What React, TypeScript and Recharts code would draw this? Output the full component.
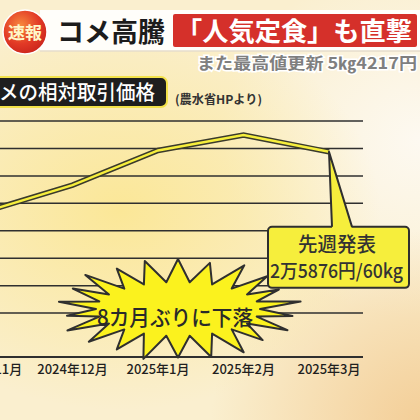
import { CartesianGrid, Line, LineChart, XAxis, YAxis } from "recharts";

// 農水省 相対取引価格（全銘柄平均, 円/60kg）
const months = ["2024年11月", "2024年12月", "2025年1月", "2025年2月", "2025年3月"];
const prices = [23715, 24665, 25927, 26485, 25876];
const gridTicks = [20000, 21000, 22000, 23000, 24000, 25000, 26000, 27000];
const yDomain = [18400, 27000];

const calloutTitle = "先週発表";
const calloutValue = "2万5876円/60kg";

const FONT = '"Noto Sans CJK JP", "Noto Sans", sans-serif';
const INK = "#2f2f2f";
const YELLOW = "#f6ee3c";

const data = months.map((month, i) => ({ month, price: prices[i] }));

// 吹き出し：最新の点から下の箱へ
const renderCallout = (props: any) => {
  const { cx, cy, index } = props;
  if (index !== data.length - 1) return <g key={`d-${index}`} />;
  const bx = cx - 61;
  const by = cy + 75;
  return (
    <g key={`d-${index}`}>
      <rect x={bx} y={by} width={141} height={61} rx={4} fill={YELLOW} stroke={INK} strokeWidth={2} />
      <polygon points={`${cx},${cy} ${cx + 3},${by + 2} ${cx + 23},${by + 2}`} fill={YELLOW} />
      <polyline points={`${cx + 3},${by} ${cx},${cy} ${cx + 23},${by}`} fill="none" stroke={INK} strokeWidth={2} strokeLinejoin="round" />
      <text x={bx + 30} y={by + 25} fontSize={20} fontWeight={500} fill="#333" fontFamily={FONT} textLength={78} lengthAdjust="spacingAndGlyphs">
        {calloutTitle}
      </text>
      <text x={bx + 2} y={by + 51} fontSize={19} fontWeight={500} fill="#333" fontFamily={FONT} textLength={133} lengthAdjust="spacingAndGlyphs">
        {calloutValue}
      </text>
    </g>
  );
};

// ギザギザの星形
const starPoints = () => {
  const cx = 178;
  const cy = 309;
  const n = 22;
  const tweak = [1, 0.96, 1.04, 1, 0.94, 1.05, 0.98, 1.02, 0.95, 1.03, 1, 0.97, 1.04, 0.96, 1, 1.03, 0.95, 1.02, 0.98, 1.04, 0.96, 1];
  const pts: string[] = [];
  for (let i = 0; i < n * 2; i++) {
    const a = (Math.PI * i) / n - Math.PI / 2;
    const outer = i % 2 === 0;
    const k = outer ? tweak[i / 2] : 1;
    const rx = outer ? 118 * k : 82;
    const ry = outer ? 50 * k : 27;
    pts.push(`${(cx + rx * Math.cos(a)).toFixed(1)},${(cy + ry * Math.sin(a)).toFixed(1)}`);
  }
  return pts.join(" ");
};

export default function App() {
  return (
    <div
      style={{
        position: "relative",
        width: 420,
        height: 420,
        overflow: "hidden",
        fontFamily: FONT,
        background:
          "radial-gradient(ellipse 260px 200px at 120px 210px, #fbe797 0%, rgba(251,231,151,0) 100%), radial-gradient(ellipse 220px 200px at 430px 430px, #f3cc94 0%, rgba(243,204,148,0) 100%), radial-gradient(ellipse 200px 180px at 420px 140px, #fdf9f1 0%, rgba(253,249,241,0) 100%), #faefcf",
      }}
    >
      <style>{`body{margin:0}`}</style>

      <div style={{ position: "absolute", left: -47, top: 111 }}>
        <LineChart width={470} height={276} data={data} margin={{ top: 10, right: 60, bottom: 0, left: 0 }}>
          <CartesianGrid vertical={false} stroke={INK} strokeWidth={1.5} />
          <XAxis
            dataKey="month"
            height={30}
            interval={0}
            padding={{ left: 34, right: 34 }}
            axisLine={{ stroke: INK, strokeWidth: 2 }}
            tickLine={false}
            tick={{ fill: "#1f1f1f", fontSize: 13, fontWeight: 500, fontFamily: FONT }}
          />
          <YAxis hide width={0} domain={yDomain} ticks={gridTicks} />
          <Line type="linear" dataKey="price" stroke="#3a3a2c" strokeWidth={5.5} dot={false} isAnimationActive={false} />
          <Line type="linear" dataKey="price" stroke={YELLOW} strokeWidth={2.5} dot={renderCallout} activeDot={false} isAnimationActive={false} />
        </LineChart>
      </div>

      <svg width={420} height={420} style={{ position: "absolute", left: 0, top: 0, pointerEvents: "none" }}>
        <defs>
          <radialGradient id="badge" cx="40%" cy="35%" r="70%">
            <stop offset="0%" stopColor="#f7893e" />
            <stop offset="60%" stopColor="#e23a26" />
            <stop offset="100%" stopColor="#c9241c" />
          </radialGradient>
        </defs>

        {/* ヘッダー */}
        <rect x={40} y={10} width={380} height={41} fill="#ffffff" opacity={0.9} />
        <line x1={40} y1={51} x2={420} y2={51} stroke="#e6dccb" strokeWidth={1.5} />
        <circle cx={25} cy={32} r={22} fill="url(#badge)" stroke="#fff" strokeWidth={1.5} />
        <text x={25} y={38.5} textAnchor="middle" fontSize={17} fontWeight={700} fill="#fff7c8" fontFamily={FONT}>
          速報
        </text>
        <text x={57} y={42} fontSize={27} fontWeight={700} fill="#1c1c1c" fontFamily={FONT} textLength={108} lengthAdjust="spacingAndGlyphs">
          コメ高騰
        </text>
        <rect x={173} y={14} width={244} height={33} rx={2} fill="#d5302a" />
        <text x={176} y={41} fontSize={26} fontWeight={700} fill="#ffffff" fontFamily={FONT} textLength={236} lengthAdjust="spacingAndGlyphs">
          「人気定食」も直撃
        </text>
        <text
          x={197}
          y={69}
          fontSize={16}
          fontWeight={700}
          fill="#7f7f7f"
          stroke="#ffffff"
          strokeWidth={3}
          paintOrder="stroke"
          fontFamily={FONT}
          textLength={220}
          lengthAdjust="spacingAndGlyphs"
        >
          また最高値更新 5㎏4217円
        </text>

        {/* グラフタイトル */}
        <rect x={-10} y={77} width={177} height={30} rx={6} fill="#1e1e1e" stroke="#f3e24a" strokeWidth={2} />
        <text x={-20.5} y={100} fontSize={20} fontWeight={500} fill="#ffffff" fontFamily={FONT} textLength={175.5} lengthAdjust="spacingAndGlyphs">
          コメの相対取引価格
        </text>
        <text x={175} y={104} fontSize={12} fontWeight={700} fill="#333" fontFamily={FONT} textLength={87} lengthAdjust="spacingAndGlyphs">
          (農水省HPより)
        </text>

        {/* 8カ月ぶりに下落 */}
        <polygon points={starPoints()} fill="#fbf21e" stroke={INK} strokeWidth={2} strokeLinejoin="round" />
        <text x={175} y={325} textAnchor="middle" fontSize={21} fontWeight={500} fill="#2a2a2a" fontFamily={FONT} textLength={156} lengthAdjust="spacingAndGlyphs">
          8カ月ぶりに下落
        </text>
      </svg>
    </div>
  );
}
